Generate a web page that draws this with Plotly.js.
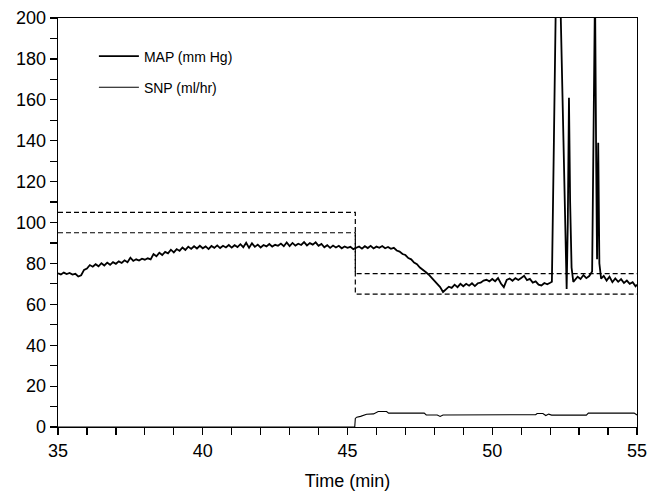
<!DOCTYPE html>
<html>
<head>
<meta charset="utf-8">
<script src="https://cdn.plot.ly/plotly-3.0.1.min.js"></script>
<style>html,body{margin:0;padding:0;background:#fff}#chart{width:650px;height:494px}</style>
</head>
<body>
<div id="chart"></div>
<script>
// MAP (mm Hg) readings
const mapTime = [
35.0,35.1,35.2,35.3,35.4,35.5,35.6,35.7,35.8,35.9,
36.0,36.1,36.2,36.3,36.4,36.5,36.6,36.7,36.8,36.9,
37.0,37.1,37.2,37.3,37.4,37.5,37.6,37.7,37.8,37.9,
38.0,38.1,38.2,38.3,38.4,38.5,38.6,38.7,38.8,38.9,
39.0,39.1,39.2,39.3,39.4,39.5,39.6,39.7,39.8,39.9,
40.0,40.1,40.2,40.3,40.4,40.5,40.6,40.7,40.8,40.9,
41.0,41.1,41.2,41.3,41.4,41.5,41.6,41.7,41.8,41.9,
42.0,42.1,42.2,42.3,42.4,42.5,42.6,42.7,42.8,42.9,
43.0,43.1,43.2,43.3,43.4,43.5,43.6,43.7,43.8,43.9,
44.0,44.1,44.2,44.3,44.4,44.5,44.6,44.7,44.8,44.9,
45.0,45.1,45.2,45.3,45.4,45.5,45.6,45.7,45.8,45.9,
46.0,46.1,46.2,46.3,46.4,46.5,46.6,46.7,46.8,46.9,
47.0,47.1,47.2,47.3,47.4,47.5,47.6,47.7,47.8,47.9,
48.0,48.1,48.2,48.3,48.4,48.5,48.6,48.7,48.8,48.9,
49.0,49.1,49.2,49.3,49.4,49.5,49.6,49.7,49.8,49.9,
50.0,50.1,50.2,50.3,50.4,50.5,50.6,50.7,50.8,50.9,
51.0,51.1,51.2,51.3,51.4,51.5,51.6,51.7,51.8,51.9,
52.0,52.06,52.13,52.2,52.3,52.36,52.46,52.57,52.61,52.65,
52.69,52.74,52.8,52.86,52.95,53.05,53.15,53.25,53.35,53.45,
53.5,53.55,53.59,53.62,53.66,53.7,53.76,53.85,53.95,54.05,
54.15,54.25,54.35,54.45,54.55,54.65,54.75,54.85,54.95,55.0
];
const mapValue = [
75.2,74.6,75.5,74.8,75.3,74.5,74.9,73.6,74.2,76.8,
77.5,79.2,78.4,79.6,78.6,80.1,79.0,80.4,79.3,80.6,
79.8,81.0,80.2,81.5,80.6,82.8,81.2,82.0,81.4,82.3,
81.8,82.5,82.0,84.6,83.5,85.2,84.1,85.6,84.9,86.7,
85.4,87.0,86.1,87.8,86.6,88.2,87.1,88.4,87.3,88.6,
87.4,88.3,87.0,88.5,87.6,88.8,87.5,88.6,87.8,89.0,
87.7,88.9,88.0,89.4,87.9,90.1,87.6,89.8,88.1,89.2,
87.8,89.0,88.3,89.5,88.2,89.1,88.6,89.7,88.4,90.2,
88.5,90.0,88.7,89.6,89.0,90.4,88.8,89.9,89.2,90.3,
88.6,89.5,87.9,88.9,87.6,88.7,87.8,88.6,87.4,88.3,
87.6,88.1,87.0,87.5,88.3,87.2,88.4,87.5,88.6,87.3,
88.2,87.6,88.5,87.4,88.0,87.1,87.6,86.3,85.8,84.6,
84.1,82.6,82.0,80.4,79.6,78.0,77.1,75.8,74.6,73.0,
71.5,70.2,68.4,66.0,67.3,68.6,68.0,69.6,68.4,70.0,
68.8,70.0,69.1,70.3,68.9,70.3,70.6,71.6,72.0,71.2,
72.4,71.3,72.8,70.2,68.4,71.9,72.6,71.5,72.8,71.9,
72.9,73.9,71.8,72.4,70.6,71.2,69.6,69.2,70.4,69.8,
70.5,71.0,140,212,215,205,140,67.5,100,161,
110,78,71.0,71.8,73.5,72.4,74.3,72.8,73.8,76.0,
140,215,130,82,139,80,72.6,73.9,71.6,73.5,
70.8,72.6,71.0,72.3,70.4,71.6,70.0,70.8,68.8,69.6
];
// SNP (ml/hr) readings
const snpTime = [35,45.25,45.27,45.32,45.45,45.66,45.9,46.06,46.35,46.42,47.65,47.72,48.1,48.2,48.3,50.9,51.0,51.1,51.5,51.55,51.75,51.85,51.95,52.05,53.25,53.32,54.9,55];
const snpValue = [0,0,4.2,4.8,5.2,6.2,6.4,7.6,7.6,6.8,6.8,5.9,5.9,5.2,5.9,5.9,6.2,6.0,6.0,6.6,6.6,5.6,6.3,5.8,5.8,6.8,6.8,5.9];
// target range (dashed)
const targetTime = [35,45.27,45.27,55];
const targetUpper = [105,105,75,75];
const targetLower = [95,95,65,65];

const seriesNames = ["MAP (mm Hg)", "SNP (ml/hr)"];
const xTitle = "Time (min)";

const FONT = "Liberation Sans, Arial, sans-serif";
const traces = [
  {x: mapTime, y: mapValue, type: 'scatter', mode: 'lines', name: seriesNames[0],
   legendgroup: 'a', line: {color: '#000', width: 1.8}},
  {x: snpTime, y: snpValue, type: 'scatter', mode: 'lines', name: seriesNames[1],
   legendgroup: 'b', line: {color: '#000', width: 1.1}},
  {x: targetTime, y: targetUpper, type: 'scatter', mode: 'lines', showlegend: false,
   line: {color: '#000', width: 1.2, dash: '5px,3px'}},
  {x: targetTime, y: targetLower, type: 'scatter', mode: 'lines', showlegend: false,
   line: {color: '#000', width: 1.2, dash: '5px,3px'}}
];

const layout = {
  width: 650, height: 494,
  margin: {l: 58, r: 13, t: 18, b: 67},
  paper_bgcolor: '#fff', plot_bgcolor: '#fff',
  font: {family: FONT, color: '#000', size: 18},
  showlegend: true,
  legend: {x: 0.062, y: 0.945, xanchor: 'left', yanchor: 'top',
    bgcolor: 'rgba(0,0,0,0)', font: {size: 14, family: FONT},
    traceorder: 'grouped', tracegroupgap: 10, itemwidth: 40},
  xaxis: {range: [35, 55], dtick: 5, tick0: 35, ticks: 'outside', ticklen: 7, tickwidth: 1.2,
    tickcolor: '#000', showgrid: false, zeroline: false, showline: true, linecolor: '#000',
    linewidth: 1.4, mirror: true, tickfont: {size: 18},
    minor: {dtick: 1, ticks: 'outside', ticklen: 7, tickwidth: 1.2, tickcolor: '#000', showgrid: false},
    title: {text: xTitle, font: {size: 18}, standoff: 14}},
  yaxis: {range: [0, 200], dtick: 20, tick0: 0, ticks: 'outside', ticklen: 7, tickwidth: 1.2,
    tickcolor: '#000', showgrid: false, zeroline: false, showline: true, linecolor: '#000',
    linewidth: 1.4, mirror: true, tickfont: {size: 18},
    minor: {dtick: 10, ticks: 'outside', ticklen: 7, tickwidth: 1.2, tickcolor: '#000', showgrid: false}}
};

Plotly.newPlot('chart', traces, layout, {displayModeBar: false, staticPlot: true});
</script>
</body>
</html>
